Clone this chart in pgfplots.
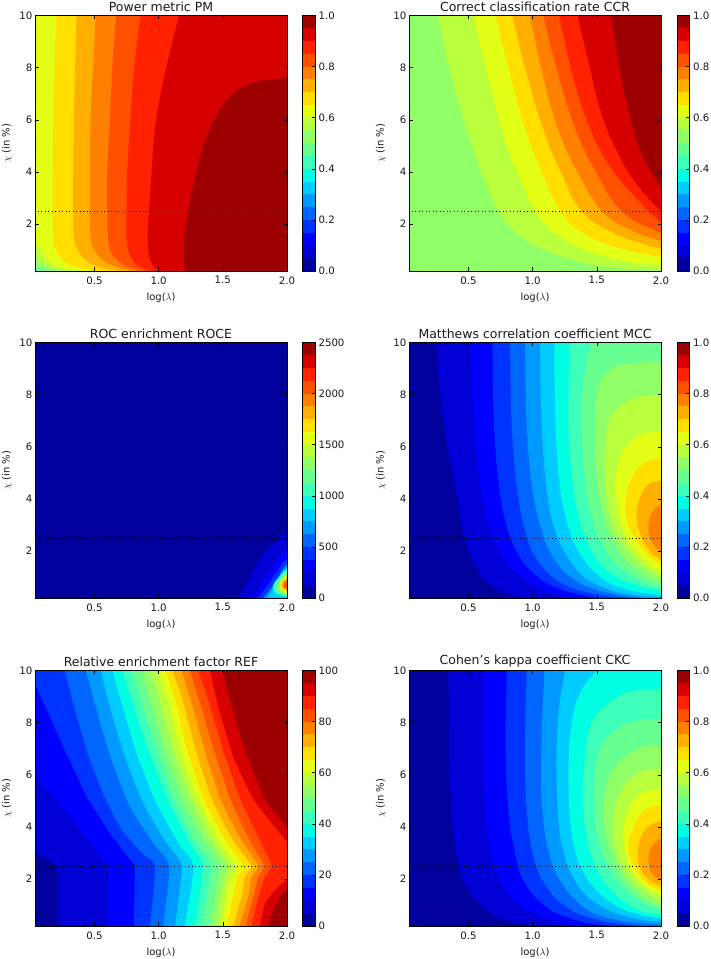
\documentclass[border=0pt]{standalone}
\usepackage{pgfplots}
\pgfplotsset{compat=1.18}
\usepackage{fontspec}
\setmainfont{DejaVu Sans}
\definecolor{c0}{rgb}{0,0,.614}
\definecolor{c1}{rgb}{0,0,.841}
\definecolor{c2}{rgb}{0,0,1}
\definecolor{c3}{rgb}{0,.2,1}
\definecolor{c4}{rgb}{0,.4,1}
\definecolor{c5}{rgb}{0,.6,1}
\definecolor{c6}{rgb}{0,.8,1}
\definecolor{c7}{rgb}{0,1,.887}
\definecolor{c8}{rgb}{.242,1,.726}
\definecolor{c9}{rgb}{.403,1,.565}
\definecolor{c10}{rgb}{.565,1,.403}
\definecolor{c11}{rgb}{.726,1,.242}
\definecolor{c12}{rgb}{.887,1,.081}
\definecolor{c13}{rgb}{1,.870,0}
\definecolor{c14}{rgb}{1,.685,0}
\definecolor{c15}{rgb}{1,.5,0}
\definecolor{c16}{rgb}{1,.315,0}
\definecolor{c17}{rgb}{1,.13,0}
\definecolor{c18}{rgb}{.841,0,0}
\definecolor{c19}{rgb}{.614,0,0}
\pgfplotsset{
  mainax/.style={
    scale only axis, width=252pt, height=255.5pt,
    anchor=south west,
    xmin=0.037, xmax=2, ymin=0.2, ymax=10,
    xtick={0.5,1,1.5,2}, ytick={2,4,6,8,10},
    xticklabel style={/pgf/number format/fixed,/pgf/number format/fixed zerofill,/pgf/number format/precision=1},
    /pgf/number format/assume math mode=true,
    tick align=inside, major tick length=3.5pt,
    tick style={black,line width=.5pt},
    axis line style={black,line width=.7pt},
    axis on top,
    ticklabel style={font=\fontsize{10.2}{12}\selectfont,text=black!90},
    xlabel={log($\lambda$)}, ylabel={$\chi$ (in \%)},
    label style={font=\fontsize{10}{12}\selectfont,text=black!90},
    title style={font=\fontsize{12.5}{14}\selectfont,text=black!90,yshift=-6pt},
    xlabel style={yshift=-2pt},
    ylabel style={yshift=1pt},
    xticklabel shift=2pt, yticklabel shift=-1pt,
  },
  cbax/.style={
    scale only axis, width=12.7pt, height=255.5pt,
    anchor=south west,
    xmin=0, xmax=1, ymin=0, ymax=20,
    xtick=\empty, ytick={0,4,...,20},
    ytick pos=right, yticklabel pos=right,
    /pgf/number format/assume math mode=true,
    tick align=inside, major tick length=3.5pt,
    tick style={black,line width=.5pt},
    axis line style={black,line width=.7pt},
    axis on top,
    ticklabel style={font=\fontsize{10.2}{12}\selectfont,text=black!90},
    yticklabel shift=0pt,
  },
}
\newcommand\base[1]{\addplot[fill=c#1,draw=none] coordinates {(-1,-1)(3,-1)(3,13)(-1,13)};}
\newcommand\band[2]{\addplot[fill=c#1,draw=none,smooth,tension=.7] coordinates {#2 (3,-1)(3,13)};}
\newcommand\bandk[2]{\addplot[fill=c#1,draw=none,smooth,tension=.35] coordinates {#2 (3,-1)(3,13)};}
\newcommand\dotline{\addplot[black,line width=.8pt,dash pattern=on .9pt off 2.6pt] coordinates {(0.06,2.5)(2,2.5)};}
\newcommand\cb[1]{\addplot[fill=c#1,draw=none] coordinates {(0,#1)(1,#1)(1,20)(0,20)};}
\newcommand\cbands{\cb{0}\cb{1}\cb{2}\cb{3}\cb{4}\cb{5}\cb{6}\cb{7}\cb{8}\cb{9}\cb{10}\cb{11}\cb{12}\cb{13}\cb{14}\cb{15}\cb{16}\cb{17}\cb{18}\cb{19}}
\begin{document}
\begin{tikzpicture}[x=1pt,y=1pt]
\useasboundingbox (0,0) rectangle (711,959);
% ---------- PM
\begin{axis}[mainax,at={(35pt,688pt)},title={Power metric PM}]
\base{9}
\band{10}{(-.5,13)(-.5,2)(-.1,.8)(.037,.42)(.08,.3)(.13,.2)(.18,0)(.25,-1)}
\band{11}{(-.5,13)(-.5,3)(-.1,1.3)(.037,.74)(.1,.45)(.2,.25)(.25,.2)(.35,0)(.4,-1)}
\band{12}{(-.5,13)(-.5,4)(-.1,2.2)(.037,1.37)(.09,.9)(.15,.55)(.25,.3)(.38,.2)(.5,0)(.6,-1)}
\band{13}{(.2,13)(.2,11)(.20,10)(.19,8)(.18,6)(.175,4)(.175,2.5)(.18,1.5)(.2,1.0)(.26,.6)(.35,.35)(.5,.2)(.6,0)(.7,-1)}
\band{14}{(.36,13)(.36,11)(.36,10)(.35,8)(.34,6)(.335,4)(.335,2.5)(.34,1.5)(.37,1.0)(.45,.55)(.56,.3)(.68,.2)(.75,0)(.8,-1)}
\band{15}{(.52,13)(.52,11)(.51,10)(.49,8)(.47,6)(.465,4)(.465,2.5)(.47,1.5)(.50,1.0)(.57,.6)(.67,.35)(.78,.2)(.82,0)(.85,-1)}
\band{16}{(.7,13)(.7,11)(.67,10)(.64,8)(.62,6)(.60,4)(.60,2.5)(.605,1.5)(.625,1)(.68,.6)(.76,.35)(.86,.2)(.9,0)(.95,-1)}
\band{17}{(.92,13)(.9,11)(.86,10)(.81,8)(.78,6)(.755,4)(.75,2.5)(.75,1.5)(.765,1)(.80,.6)(.86,.35)(.93,.2)(.97,0)(1,-1)}
\band{18}{(1.3,13)(1.22,11)(1.16,10)(1.06,8)(.98,6)(.945,4)(.925,2.5)(.915,1.5)(.925,.8)(.95,.45)(1.0,.2)(1.03,0)(1.05,-1)}
\band{19}{(2.3,7.6)(2.1,7.6)(2,7.6)(1.9,7.55)(1.79,7.5)(1.68,7.3)(1.58,7)(1.5,6.55)(1.43,5.97)(1.37,5.3)(1.32,4.56)(1.245,2.9)(1.215,2)(1.2,1.37)(1.2,.6)(1.21,.2)(1.22,0)(1.24,-1)}
\dotline
\end{axis}
\begin{axis}[cbax,at={(302.3pt,688pt)},yticklabels={0.0,0.2,0.4,0.6,0.8,1.0}]
\cbands
\end{axis}
% ---------- CCR
\begin{axis}[mainax,at={(409pt,688pt)},title={Correct classification rate CCR}]
\base{10}
\band{11}{(.16,13)(.21,11)(.26,10)(.343,8.13)(.473,5.84)(.629,3.6)(.733,2.5)(.85,1.75)(1.07,1.05)(1.434,.48)(1.746,.28)(2,.2)(2.1,.15)(2.3,.1)}
\band{12}{(.46,13)(.5,11)(.538,10)(.655,7.6)(.785,5.2)(.915,3.6)(1.019,2.5)(1.149,1.76)(1.382,1.05)(1.694,.6)(2,.42)(2.1,.38)(2.3,.3)}
\band{13}{(.63,13)(.67,11)(.712,10)(.837,7.5)(.954,5.45)(1.097,3.7)(1.214,2.5)(1.382,1.69)(1.642,1.12)(2,.74)(2.1,.68)(2.3,.6)}
\band{14}{(.76,13)(.8,11)(.842,10)(.967,7.5)(1.097,5.45)(1.227,3.92)(1.382,2.5)(1.642,1.63)(2,1.05)(2.1,.95)(2.3,.8)}
\band{15}{(.91,13)(.95,11)(.98,10)(1.084,7.6)(1.2,5.6)(1.343,4.05)(1.538,2.5)(1.772,1.76)(2,1.35)(2.1,1.25)(2.3,1.1)}
\band{16}{(1.0,13)(1.05,11)(1.084,10)(1.2,7.75)(1.33,5.7)(1.473,4.18)(1.694,2.5)(2,1.65)(2.1,1.5)(2.3,1.3)}
\band{17}{(1.13,13)(1.17,11)(1.206,10)(1.318,7.6)(1.434,5.84)(1.59,4.3)(1.824,2.9)(2,2.07)(2.1,1.8)(2.3,1.5)}
\band{18}{(1.28,13)(1.32,11)(1.351,10)(1.434,8.26)(1.538,6.2)(1.694,4.43)(1.85,3.29)(2,2.5)(2.1,2.1)(2.3,1.7)}
\band{19}{(1.56,13)(1.59,11)(1.611,10)(1.668,8.26)(1.746,6.35)(1.85,4.69)(2,3.41)(2.1,2.8)(2.3,2)}
\dotline
\end{axis}
\begin{axis}[cbax,at={(677pt,688pt)},yticklabels={0.0,0.2,0.4,0.6,0.8,1.0}]
\cbands
\end{axis}
% ---------- ROCE
\begin{axis}[mainax,at={(35pt,361pt)},title={ROC enrichment ROCE}]
\base{0}
\band{1}{(2.3,3.1)(2.1,2.85)(2,2.72)(1.92,2.36)(1.842,2.04)(1.764,1.53)(1.70,.89)(1.62,.2)(1.6,0)(1.55,-1)}
\band{2}{(2.2,2.35)(2.1,2.2)(2,2.04)(1.93,1.7)(1.868,1.25)(1.80,.76)(1.74,.2)(1.72,0)(1.7,-1)}
\band{3}{(2.2,2.05)(2.1,1.9)(2,1.72)(1.906,1.1)(1.842,.65)(1.777,.2)(1.76,0)(1.74,-1)}
\band{4}{(2.2,1.85)(2.1,1.7)(2,1.53)(1.945,1.1)(1.88,.6)(1.816,.2)(1.8,0)(1.78,-1)}
\band{5}{(2.2,1.75)(2.1,1.6)(2,1.44)(1.945,1.05)(1.875,.55)(1.825,.2)(1.81,0)(1.79,-1)}
\band{6}{(2.2,1.65)(2.1,1.5)(2,1.36)(1.94,1.0)(1.885,.5)(1.85,.2)(1.835,0)(1.82,-1)}
\band{7}{(2.2,1.6)(2.1,1.45)(2,1.3)(1.935,1)(1.89,.65)(1.91,.38)(1.95,.28)(2,.24)(2.1,.2)(2.2,.15)}
\band{8}{(2.2,1.5)(2.1,1.38)(2,1.25)(1.945,.98)(1.9,.65)(1.92,.4)(1.96,.31)(2,.27)(2.1,.24)(2.2,.2)}
\band{9}{(2.2,1.4)(2.1,1.3)(2,1.2)(1.95,.95)(1.915,.65)(1.93,.44)(1.965,.34)(2,.3)(2.1,.27)(2.2,.24)}
\band{10}{(2.2,1.35)(2.1,1.25)(2,1.15)(1.955,.92)(1.925,.65)(1.94,.46)(1.97,.38)(2,.34)(2.1,.3)(2.2,.27)}
\band{11}{(2.2,1.25)(2.1,1.17)(2,1.09)(1.96,.9)(1.935,.65)(1.95,.48)(1.975,.41)(2,.37)(2.1,.33)(2.2,.3)}
\band{12}{(2.2,1.19)(2.1,1.11)(2,1.04)(1.945,.7)(2,.41)(2.1,.38)(2.2,.35)}
\band{13}{(2.2,1.14)(2.1,1.06)(2,.99)(1.952,.7)(2,.44)(2.1,.4)(2.2,.37)}
\band{14}{(2.2,1.09)(2.1,1.01)(2,.94)(1.96,.7)(2,.48)(2.1,.44)(2.2,.41)}
\band{15}{(2.2,1.04)(2.1,.96)(2,.89)(1.967,.7)(2,.52)(2.1,.48)(2.2,.45)}
\band{16}{(2.2,.98)(2.1,.9)(2,.83)(1.978,.7)(2,.57)(2.1,.53)(2.2,.5)}
\dotline
\end{axis}
\begin{axis}[cbax,at={(302.3pt,361pt)},yticklabels={0,500,1000,1500,2000,2500}]
\cbands
\end{axis}
% ---------- MCC
\begin{axis}[mainax,at={(409pt,361pt)},title={Matthews correlation coefficient MCC}]
\base{0}
\band{1}{(.24,13)(.24,11)(.247,10)(.279,8.13)(.33,6.2)(.395,4.55)(.473,2.5)(.577,1.22)(.707,.58)(.889,.26)(1.045,.2)(1.2,.1)(1.4,0)}
\band{2}{(.52,13)(.52,11)(.52,10)(.53,8.13)(.564,5.57)(.629,3.5)(.707,2.37)(.837,1.35)(1.045,.58)(1.278,.26)(1.43,.2)(1.6,.1)(1.8,0)}
\band{3}{(.68,13)(.68,11)(.686,10)(.694,7.5)(.72,5.3)(.772,3.5)(.863,2.1)(1.019,1.1)(1.227,.52)(1.486,.22)(1.65,.15)(1.8,.05)(2,0)}
\band{4}{(.82,13)(.82,11)(.824,10)(.837,6.85)(.876,4.55)(.941,2.76)(1.045,1.6)(1.227,.78)(1.486,.35)(1.746,.2)(1.9,.12)(2.1,0)}
\band{5}{(.94,13)(.94,11)(.941,10)(.954,6.85)(.993,4.55)(1.058,3)(1.149,1.86)(1.305,.97)(1.538,.46)(1.85,.2)(2,.15)(2.2,0)}
\band{6}{(1.05,13)(1.05,11)(1.058,10)(1.066,7.5)(1.097,4.93)(1.162,3)(1.279,1.73)(1.434,.9)(1.694,.39)(2,.23)(2.1,.2)(2.3,.1)}
\band{7}{(1.17,13)(1.17,11)(1.169,10)(1.175,7.5)(1.2,5.06)(1.253,3.4)(1.357,1.99)(1.538,.97)(1.746,.52)(2,.3)(2.1,.25)(2.3,.2)}
\band{8}{(1.31,13)(1.3,11)(1.292,10)(1.279,7.5)(1.292,5.57)(1.343,3.65)(1.46,1.99)(1.668,.97)(2,.46)(2.1,.38)(2.3,.3)}
\band{9}{(1.6,13)(1.53,11)(1.46,10)(1.408,9)(1.382,7.5)(1.395,5.57)(1.447,3.5)(1.59,1.86)(1.798,.97)(2,.58)(2.1,.5)(2.3,.4)}
\band{10}{(2.3,9.4)(2.1,9.35)(2,9.3)(1.772,9.2)(1.616,9)(1.512,8.26)(1.486,6.85)(1.5,4.93)(1.564,3.14)(1.694,1.86)(1.85,1.16)(2,.78)(2.1,.65)(2.3,.5)}
\band{11}{(2.3,8.1)(2.1,8.05)(2,8)(1.798,7.87)(1.642,7.36)(1.577,6.6)(1.564,4.93)(1.616,3.14)(1.746,1.99)(1.876,1.35)(2,.97)(2.1,.8)(2.3,.6)}
\band{12}{(2.3,6.7)(2.1,6.65)(2,6.6)(1.85,6.47)(1.72,5.95)(1.655,5.06)(1.655,3.78)(1.72,2.63)(1.85,1.73)(2,1.16)(2.1,1)(2.3,.8)}
\band{13}{(2.3,5.7)(2.1,5.62)(2,5.57)(1.876,5.38)(1.772,4.8)(1.725,3.9)(1.746,3)(1.85,2.12)(2,1.45)(2.1,1.2)(2.3,1)}
\band{14}{(2.3,4.9)(2.1,4.76)(2,4.7)(1.902,4.55)(1.837,4.04)(1.811,3.27)(1.85,2.5)(1.915,1.99)(2,1.67)(2.1,1.5)(2.3,1.3)}
\band{15}{(2.3,4.3)(2.1,3.95)(2,3.78)(1.928,3.46)(1.902,2.89)(1.928,2.37)(2,1.99)(2.1,1.8)(2.3,1.5)}
\dotline
\end{axis}
\begin{axis}[cbax,at={(677pt,361pt)},yticklabels={0.0,0.2,0.4,0.6,0.8,1.0}]
\cbands
\end{axis}
% ---------- REF
\begin{axis}[mainax,at={(35pt,33pt)},title={Relative enrichment factor REF}]
\base{0}
\addplot[fill=c1,draw=none] coordinates {(0,13)(0,3.28)(.037,3.05)(.219,2.5)(.219,-1)(3,-1)(3,13)};
\addplot[fill=c2,draw=none] coordinates {(-.5,13)(-.5,7)(.037,5.99)(.206,5.03)(.388,3.88)(.608,2.5)(.603,-1)(3,-1)(3,13)};
\addplot[fill=c3,draw=none] coordinates {(-.5,13)(-.5,10)(.037,9.5)(.258,7.07)(.44,5.15)(.621,3.75)(.816,2.5)(.803,-1)(3,-1)(3,13)};
\bandk{4}{(.2,13)(.24,11)(.271,10)(.349,8.48)(.44,6.94)(.549,5.49)(.699,4)(.868,3)(.972,2.5)(.933,.2)(.93,0)(.925,-1)}
\bandk{5}{(.37,13)(.4,11)(.434,10)(.517,8.48)(.634,6.56)(.777,4.77)(.959,3.37)(1.084,2.5)(1.037,.2)(1.03,0)(1.025,-1)}
\bandk{6}{(.49,13)(.52,11)(.549,10)(.621,8.6)(.738,6.69)(.881,4.9)(1.063,3.37)(1.18,2.5)(1.128,.2)(1.12,0)(1.11,-1)}
\bandk{7}{(.58,13)(.61,11)(.642,10)(.712,8.73)(.829,6.82)(.972,5.03)(1.154,3.37)(1.271,2.5)(1.206,.2)(1.2,0)(1.19,-1)}
\bandk{8}{(.65,13)(.68,11)(.72,10)(.79,8.86)(.92,6.94)(1.063,5.15)(1.232,3.49)(1.343,2.5)(1.284,.2)(1.27,0)(1.26,-1)}
\bandk{9}{(.72,13)(.75,11)(.79,10)(.868,8.73)(.985,6.94)(1.115,5.15)(1.28,3.49)(1.406,2.5)(1.343,.2)(1.33,0)(1.32,-1)}
\bandk{10}{(.8,13)(.83,11)(.868,10)(.933,8.86)(1.05,6.94)(1.18,5.15)(1.35,3.49)(1.471,2.5)(1.401,.2)(1.39,0)(1.38,-1)}
\bandk{11}{(.86,13)(.89,11)(.933,10)(1.006,8.86)(1.107,6.94)(1.245,5.15)(1.41,3.49)(1.536,2.5)(1.505,1.96)(1.453,.2)(1.44,0)(1.43,-1)}
\bandk{12}{(.93,13)(.96,11)(.998,10)(1.071,8.86)(1.167,6.94)(1.297,5.15)(1.465,3.49)(1.595,2.5)(1.562,2.09)(1.525,1.32)(1.491,.2)(1.48,0)(1.47,-1)}
\bandk{13}{(.98,13)(1.01,11)(1.055,10)(1.128,8.86)(1.224,6.94)(1.354,5.03)(1.52,3.49)(1.66,2.5)(1.614,2.09)(1.582,1.32)(1.53,.2)(1.52,0)(1.5,-1)}
\bandk{14}{(1.03,13)(1.06,11)(1.11,10)(1.188,8.86)(1.289,6.94)(1.419,5.03)(1.58,3.49)(1.725,2.5)(1.673,2.09)(1.647,1.32)(1.582,.2)(1.57,0)(1.55,-1)}
\bandk{15}{(1.1,13)(1.13,11)(1.18,10)(1.25,8.86)(1.359,6.94)(1.484,5.03)(1.645,3.49)(1.777,2.5)(1.725,2.09)(1.699,1.32)(1.627,.2)(1.61,0)(1.59,-1)}
\bandk{16}{(1.17,13)(1.2,11)(1.245,10)(1.315,8.86)(1.432,6.94)(1.562,5.03)(1.71,3.49)(1.821,2.5)(1.777,2.09)(1.738,1.32)(1.679,.2)(1.66,0)(1.64,-1)}
\bandk{17}{(1.23,13)(1.26,11)(1.31,10)(1.388,8.86)(1.504,6.94)(1.64,5.03)(1.79,3.49)(1.881,2.5)(1.829,2.09)(1.777,1.32)(1.725,.2)(1.71,0)(1.69,-1)}
\bandk{18}{(1.32,13)(1.35,11)(1.401,10)(1.466,8.6)(1.582,6.69)(1.743,5.03)(2,3.43)(2.15,2.6)(2.3,2.55)}
\bandk{18}{(2.3,2)(2.1,2)(2,1.96)(1.92,1.64)(1.829,1.07)(1.79,.2)(1.78,0)(1.77,-1)}
\bandk{19}{(1.42,13)(1.46,11)(1.499,10)(1.556,8.86)(1.673,6.94)(1.834,5.03)(2,4)(2.15,3.24)(2.3,3)}
\bandk{19}{(2.3,1.7)(2.1,1.65)(2,1.58)(1.946,1.32)(1.894,.81)(1.855,.2)(1.84,0)(1.83,-1)}
\dotline
\end{axis}
\begin{axis}[cbax,at={(302.3pt,33pt)},yticklabels={0,20,40,60,80,100}]
\cbands
\end{axis}
% ---------- CKC
\begin{axis}[mainax,at={(409pt,33pt)},title={Cohen's kappa coefficient CKC}]
\base{0}
\band{1}{(.343,13)(.343,11)(.343,10)(.351,6.95)(.37,4.4)(.421,2.6)(.499,1.58)(.655,.75)(.837,.37)(1.019,.2)(1.2,.1)(1.4,0)}
\band{2}{(.62,13)(.62,11)(.616,10)(.611,6.95)(.629,4.65)(.681,2.86)(.759,1.84)(.915,.94)(1.175,.37)(1.38,.2)(1.6,.1)(1.8,0)}
\band{3}{(.8,13)(.8,11)(.798,10)(.79,6.95)(.811,4.65)(.863,3)(.941,1.84)(1.123,.88)(1.382,.37)(1.616,.2)(1.8,.1)(2,0)}
\band{4}{(.96,13)(.96,11)(.954,10)(.941,6.95)(.954,4.65)(1.006,2.86)(1.11,1.71)(1.279,.88)(1.538,.4)(1.85,.2)(2,.15)(2.2,0)}
\band{5}{(1.11,13)(1.1,11)(1.092,10)(1.071,7.6)(1.071,5.03)(1.123,3.1)(1.227,1.84)(1.434,.81)(1.694,.4)(2,.24)(2.1,.2)(2.3,.1)}
\band{6}{(1.32,13)(1.28,11)(1.253,10)(1.2,8.23)(1.188,5.67)(1.227,3.37)(1.343,1.84)(1.538,.94)(1.798,.49)(2,.37)(2.1,.3)(2.3,.2)}
\band{7}{(1.8,13)(1.65,11)(1.499,10)(1.382,9.25)(1.304,7.97)(1.279,5.67)(1.318,3.37)(1.434,1.96)(1.642,1)(1.85,.62)(2,.49)(2.1,.4)(2.3,.3)}
\band{8}{(2.3,9.4)(2.1,9.35)(2,9.28)(1.772,9.2)(1.59,8.74)(1.46,7.97)(1.408,6.7)(1.395,4.65)(1.46,2.86)(1.59,1.71)(1.798,.88)(2,.62)(2.1,.55)(2.3,.45)}
\band{9}{(2.3,8.3)(2.1,8.2)(2,8.17)(1.772,8.04)(1.616,7.6)(1.512,6.82)(1.481,5.42)(1.512,3.5)(1.642,2.09)(1.824,1.2)(2,.81)(2.1,.7)(2.3,.6)}
\band{10}{(2.3,7.2)(2.1,7.15)(2,7.1)(1.824,7.02)(1.642,6.31)(1.564,5.29)(1.564,3.88)(1.655,2.48)(1.824,1.45)(2,.94)(2.1,.8)(2.3,.65)}
\band{11}{(2.3,6.4)(2.1,6.3)(2,6.25)(1.824,6.06)(1.694,5.42)(1.629,4.39)(1.655,2.99)(1.772,1.96)(2,1.13)(2.1,1)(2.3,.8)}
\band{12}{(2.3,5.7)(2.1,5.55)(2,5.48)(1.85,5.29)(1.746,4.65)(1.707,3.63)(1.746,2.6)(1.85,1.84)(2,1.35)(2.1,1.2)(2.3,1)}
\band{13}{(2.3,5.1)(2.1,4.95)(2,4.87)(1.876,4.65)(1.785,4.01)(1.746,3.24)(1.785,2.48)(1.889,1.84)(2,1.56)(2.1,1.4)(2.3,1.2)}
\band{14}{(2.3,4.6)(2.1,4.35)(2,4.23)(1.902,4.01)(1.837,3.5)(1.82,2.86)(1.85,2.28)(1.928,1.9)(2,1.73)(2.1,1.6)(2.3,1.4)}
\band{15}{(2.3,4.1)(2.1,3.75)(2,3.56)(1.928,3.24)(1.902,2.73)(1.928,2.22)(2,1.96)(2.1,1.8)(2.3,1.6)}
\dotline
\end{axis}
\begin{axis}[cbax,at={(677pt,33pt)},yticklabels={0.0,0.2,0.4,0.6,0.8,1.0}]
\cbands
\end{axis}
\end{tikzpicture}
\end{document}
